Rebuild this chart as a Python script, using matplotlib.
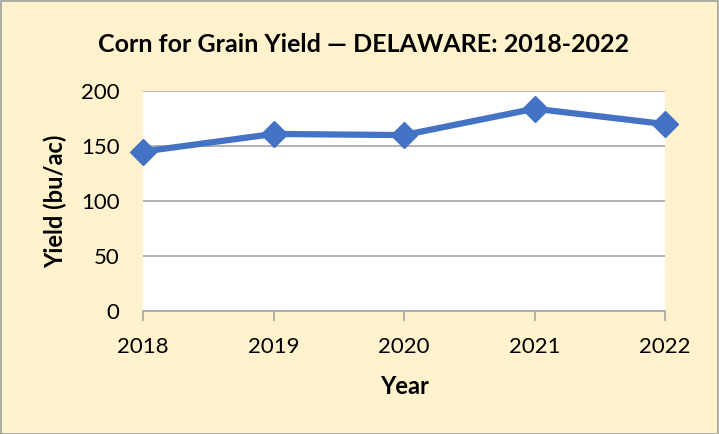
import matplotlib
matplotlib.use("Agg")
import matplotlib.pyplot as plt
from matplotlib.patches import Rectangle

years = ["2018", "2019", "2020", "2021", "2022"]
yields = [145, 161, 160, 184, 170]
y_ticks = [0, 50, 100, 150, 200]

plt.rcParams['font.family'] = ['Lato', 'DejaVu Sans']

bg = '#FFF2CC'
fig = plt.figure(figsize=(7.19, 4.34), dpi=100, facecolor=bg)
fig.patches.append(Rectangle((0.001, 0.001), 0.997, 0.997, transform=fig.transFigure,
                             fill=False, edgecolor='#A0A0A0', lw=1.2))

ax = fig.add_axes([0.199, 0.284, 0.726, 0.506])
ax.set_facecolor('white')
x = range(len(years))
ax.plot(x, yields, color='#4472C4', lw=4.5, marker='D', markersize=13,
        clip_on=False, zorder=3)

ax.set_xlim(0, len(years) - 1)
ax.set_ylim(0, 200)
ax.set_yticks(y_ticks)
ax.set_xticks(list(x))
ax.set_xticklabels(years)
ax.grid(axis='y', color='#A6A6A6', lw=1.2)
ax.set_axisbelow(True)
for s in ['top', 'right', 'left']:
    ax.spines[s].set_visible(False)
ax.spines['bottom'].set_color('#A6A6A6')
ax.spines['bottom'].set_linewidth(1.2)
ax.tick_params(axis='y', length=0, labelsize=16, pad=17)
ax.tick_params(axis='x', length=7, width=1.2, color='#A6A6A6', labelsize=16, pad=12)

ax.set_xlabel('Year', fontsize=17, fontweight='bold', labelpad=13)
ax.set_ylabel('Yield (bu/ac)', fontsize=17, fontweight='bold', labelpad=10)
fig.text(0.505, 0.897, 'Corn for Grain Yield \u2014 DELAWARE: 2018-2022',
         ha='center', va='center', fontsize=18, fontweight='bold')

fig.savefig('out.png', dpi=100, facecolor=bg)
